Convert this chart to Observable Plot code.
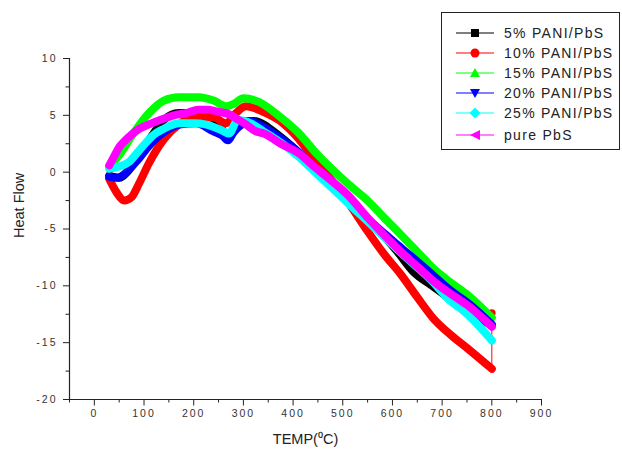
<!DOCTYPE html>
<html>
<head>
<meta charset="utf-8">
<script src="https://cdn.jsdelivr.net/npm/d3@7"></script>
<script src="https://cdn.jsdelivr.net/npm/@observablehq/plot@0.6"></script>
<style>
  html, body { margin: 0; padding: 0; background: #fff; }
  #wrap { position: relative; width: 622px; height: 450px; overflow: hidden; font-family: "Liberation Sans", Arial, sans-serif; }
  #legend { position: absolute; left: 441px; top: 12px; width: 179px; height: 138px; border: 1px solid #222; background: #fff; box-sizing: border-box; }
  .item { position: absolute; left: 13px; height: 20px; display: flex; align-items: center; font-size: 14px; letter-spacing: 1.3px; color: #222; }
  .item svg { margin-right: 9px; }
</style>
</head>
<body>
<div id="wrap"><div id="legend"></div></div>
<script>
const seriesNames = ["5% PANI/PbS", "10% PANI/PbS", "15% PANI/PbS", "20% PANI/PbS", "25% PANI/PbS", "pure PbS"];
const seriesColors = ["#000000", "#ff0000", "#00ff00", "#0000ff", "#00ffff", "#ff00ff"];
const seriesSymbols = ["square", "circle", "triangle", "triangleDown", "diamond", "triangleLeft"];

const temp5 = [30,50,70,90,110,140,170,205,240,255,268,280,295,320,375,442,510,576,610,643,680,711,760,800];
const hf5   = [-0.3,-0.5,0.2,1.4,2.8,4.6,5.2,5.1,4.7,4.0,2.9,3.8,4.4,4.5,3.1,0.4,-2.5,-5.3,-7.0,-8.8,-10.0,-11.0,-12.4,-13.5];

const temp10 = [30,45,60,75,90,110,140,170,200,240,265,285,305,340,380,410,440,476,510,550,583,617,650,683,717,751,800,800];
const hf10   = [-0.6,-1.8,-2.5,-2.2,-1.0,0.8,2.9,4.2,4.8,4.8,4.3,5.2,5.8,5.3,4.3,3.0,1.3,-0.6,-2.6,-5.2,-7.2,-9.0,-11.0,-12.9,-14.3,-15.5,-17.3,-12.4];

const temp15 = [30,50,80,110,140,170,210,240,265,280,300,330,370,410,450,480,515,550,583,617,650,683,717,751,800];
const hf15   = [0.5,1.5,3.5,5.2,6.3,6.6,6.6,6.3,5.8,6.0,6.5,6.2,5.0,3.5,1.5,0.2,-1.2,-2.5,-4.0,-5.5,-7.0,-8.5,-9.7,-10.8,-12.8];

const temp20 = [30,45,60,75,90,104,120,139,171,205,239,258,269,280,291,315,340,375,410,442,476,510,542,576,610,643,680,711,760,800];
const hf20   = [-0.4,-0.5,-0.2,0.5,1.2,2.0,2.8,3.5,4.2,4.3,3.6,3.2,2.8,3.5,4.0,4.5,4.0,3.0,1.8,0.3,-1.0,-2.5,-3.8,-5.1,-6.4,-7.6,-9.0,-10.2,-11.8,-13.4];

const temp25 = [30,50,70,90,104,120,139,171,205,239,260,271,289,315,340,375,410,442,476,510,542,576,610,643,680,711,751,800];
const hf25   = [0.3,0.5,0.9,1.9,2.6,3.3,3.8,4.3,4.3,4.0,3.6,3.4,4.6,4.3,3.6,2.6,1.4,0.1,-1.3,-2.7,-4.0,-5.4,-6.8,-8.1,-9.6,-11.1,-12.5,-14.8];

const tempPure = [30,40,50,60,75,90,110,139,160,185,210,230,250,271,290,305,325,341,375,410,442,476,510,550,583,617,650,683,717,751,800];
const hfPure   = [0.6,1.4,2.2,2.7,3.3,3.8,4.2,4.7,5.0,5.2,5.5,5.5,5.3,5.1,4.6,4.2,3.6,3.4,2.5,1.7,0.5,-0.7,-2.0,-4.0,-5.5,-7.0,-8.3,-9.6,-10.7,-11.7,-13.6];

const xTicks = [0,100,200,300,400,500,600,700,800,900];
const xMinor = [-50,50,150,250,350,450,550,650,750,850];
const yTicks = [10,5,0,-5,-10,-15,-20];
const yMinor = [7.5,2.5,-2.5,-7.5,-12.5,-17.5];

const temps = [temp5, temp10, temp15, temp20, temp25, tempPure];
const hfs = [hf5, hf10, hf15, hf20, hf25, hfPure];
const series = seriesNames.map((name, i) => ({
  name, color: seriesColors[i],
  data: temps[i].map((t, j) => ({t, h: hfs[i][j], s: name}))
}));

const marks = [];
marks.push(Plot.ruleY([-20], {stroke: "#222", strokeWidth: 1.2}));
marks.push(Plot.ruleX([-50], {stroke: "#222", strokeWidth: 1.2}));
marks.push(Plot.axisX({ticks: xMinor, tickSize: 3.5, tickFormat: () => "", label: null, stroke: "#222"}));
marks.push(Plot.axisX({ticks: xTicks, tickSize: 6.5, tickPadding: 4, fontSize: 10.5, fill: "#333", label: null, stroke: "#222"}));
marks.push(Plot.axisY({ticks: yMinor, tickSize: 3.5, tickFormat: () => "", label: null, stroke: "#222"}));
marks.push(Plot.axisY({ticks: yTicks, tickSize: 6, tickPadding: 6, fontSize: 10.5, fill: "#333", label: null, stroke: "#222", tickFormat: d => d < 0 ? "-" + Math.abs(d) : String(d)}));

series.forEach((s, i) => {
  const main = i === 1 ? s.data.slice(0, -1) : s.data;
  marks.push(Plot.line(main, {x: "t", y: "h", stroke: s.color, strokeWidth: 8, strokeLinejoin: "round", strokeLinecap: "round", curve: "monotone-x"}));
  if (i === 1) {
    const tail = s.data.slice(-2);
    marks.push(Plot.line(tail, {x: "t", y: "h", stroke: s.color, strokeWidth: 1}));
    marks.push(Plot.dot(tail.slice(-1), {x: "t", y: "h", fill: s.color, r: 3.8}));
  }
});

marks.push(Plot.text(["Heat Flow"], {frameAnchor: "left", dx: -50, dy: 9, rotate: -90, fontSize: 14.5, fill: "#222"}));
marks.push(Plot.text(["TEMP(\u2070C)"], {frameAnchor: "bottom", dy: 44, dx: 0, fontSize: 14.5, fill: "#222"}));

const chart = Plot.plot({
  width: 622, height: 450,
  marginLeft: 69, marginRight: 81, marginTop: 58, marginBottom: 51,
  x: {domain: [-50, 900], label: null},
  y: {domain: [-20, 10], label: null},
  style: {fontFamily: "Liberation Sans, Arial, sans-serif", background: "#fff", overflow: "visible"},
  marks
});
d3.select(chart).selectAll('[aria-label="x-axis tick label"] text, [aria-label="y-axis tick label"] text').attr("letter-spacing", "2px");
document.getElementById("wrap").prepend(chart);
chart.style.position = "absolute"; chart.style.left = "0"; chart.style.top = "0";

const legend = document.getElementById("legend");
function symbolPath(sym) {
  switch (sym) {
    case "square": return '<rect x="16" y="3" width="8" height="8"/>';
    case "circle": return '<circle cx="20" cy="7" r="4.5"/>';
    case "triangle": return '<path d="M20 2 L25 11 L15 11 Z"/>';
    case "triangleDown": return '<path d="M15 3 L25 3 L20 12 Z"/>';
    case "diamond": return '<path d="M20 1.5 L25.5 7 L20 12.5 L14.5 7 Z"/>';
    case "triangleLeft": return '<path d="M15 7 L25 2 L25 12 Z"/>';
  }
}
const tops = [10, 30, 50, 70, 90, 112];
seriesNames.forEach((name, i) => {
  const div = document.createElement("div");
  div.className = "item";
  div.style.top = tops[i] + "px";
  div.innerHTML = `<svg width="40" height="14" viewBox="0 0 40 14"><line x1="1" y1="7" x2="39" y2="7" stroke="${seriesColors[i]}" stroke-width="1.2"/><g fill="${seriesColors[i]}">${symbolPath(seriesSymbols[i])}</g></svg><span>${name}</span>`;
  legend.appendChild(div);
});
</script>
</body>
</html>
